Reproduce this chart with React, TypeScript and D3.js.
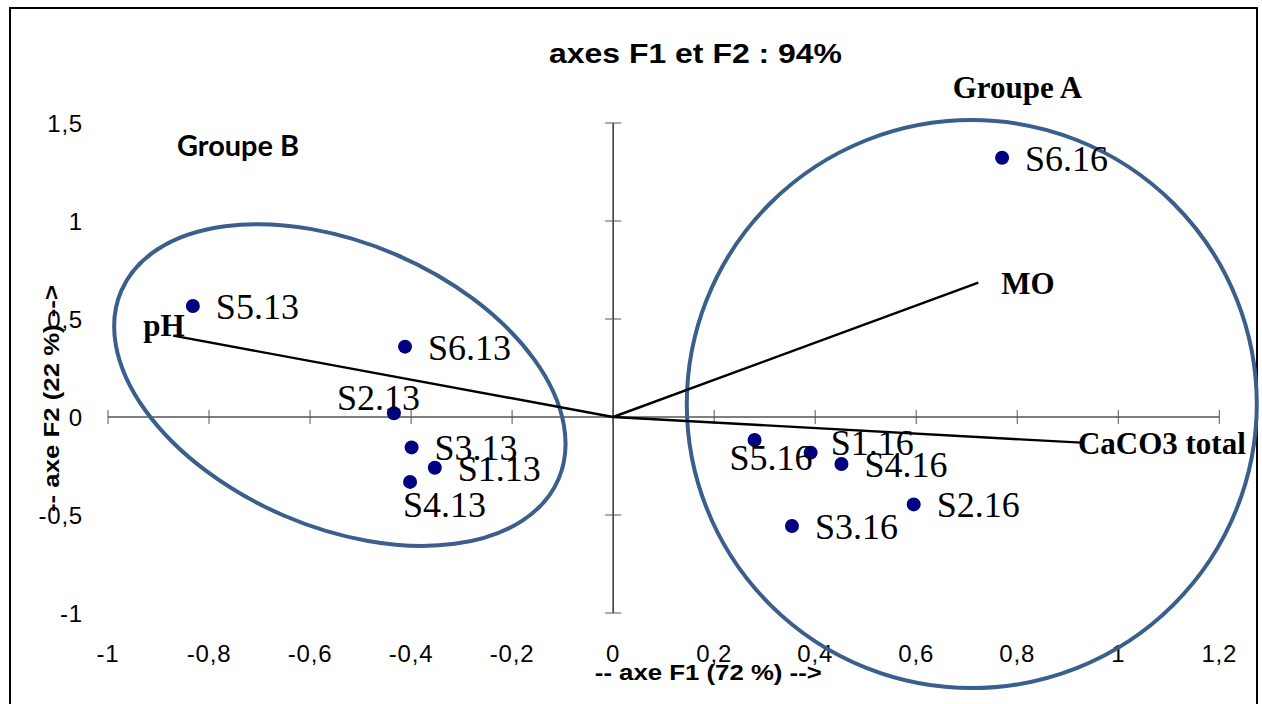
import React, { useEffect } from "react";
import { scaleLinear } from "d3";

// individus (observations) sur F1 / F2
const sampleNames = ["S1.13", "S2.13", "S3.13", "S4.13", "S5.13", "S6.13", "S1.16", "S2.16", "S3.16", "S4.16", "S5.16", "S6.16"];
const sampleF1 = [-0.353, -0.434, -0.399, -0.402, -0.832, -0.412, 0.391, 0.595, 0.354, 0.452, 0.28, 0.77];
const sampleF2 = [-0.259, 0.019, -0.155, -0.331, 0.566, 0.359, -0.182, -0.446, -0.556, -0.24, -0.117, 1.323];

// variables
const varNames = ["pH", "MO", "CaCO3 total"];
const varF1 = [-0.871, 0.723, 0.926];
const varF2 = [0.415, 0.685, -0.131];

const xTicks = [-1, -0.8, -0.6, -0.4, -0.2, 0, 0.2, 0.4, 0.6, 0.8, 1, 1.2];
const xTickLabels = ["-1", "-0,8", "-0,6", "-0,4", "-0,2", "0", "0,2", "0,4", "0,6", "0,8", "1", "1,2"];
const yTicks = [-1, -0.5, 0, 0.5, 1, 1.5];
const yTickLabels = ["-1", "-0,5", "0", "0,5", "1", "1,5"];

// groupes : centre sur le plan factoriel
const groupNames = ["Groupe A", "Groupe B"];
const groupF1 = [0.71, -0.541];
const groupF2 = [0.066, 0.163];

const W = 1262;
const H = 704;

// label placement tweaks (px), default is right of the point
const labelOffset: Record<string, [number, number]> = {
  "S2.13": [-57, -3],
  "S4.13": [-7, 35],
  "S5.16": [-25, 30],
  "S1.16": [20, 2],
};
const varLabelOffset: Record<string, [number, number]> = {
  pH: [-30, 0],
  MO: [23, 11],
  "CaCO3 total": [-3, 11],
};

export default function App() {
  useEffect(() => {
    document.body.style.margin = "0";
  }, []);

  const x = scaleLinear().domain([-1, 1.2]).range([108, 1219.3]);
  const y = scaleLinear().domain([-1, 1.5]).range([613, 123]);
  const x0 = x(0);
  const y0 = y(0);
  const arial = "'Liberation Sans', Arial, sans-serif";
  const times = "'Liberation Serif', 'Times New Roman', serif";
  const ring = "#3b5f8c";

  return (
    <svg width={W} height={H} style={{ display: "block", background: "#fff" }}>
      <rect x={10} y={8} width={1247} height={720} fill="none" stroke="#000" strokeWidth={2} />

      <text x={695.5} y={63} textAnchor="middle" fontFamily={arial} fontWeight="bold" fontSize={28} textLength={293} lengthAdjust="spacingAndGlyphs">
        axes F1 et F2 : 94%
      </text>

      {/* axes */}
      <line x1={x(-1)} x2={x(1.2)} y1={y0} y2={y0} stroke="#000" strokeWidth={1.2} />
      <line x1={x0} x2={x0} y1={y(-1)} y2={y(1.5)} stroke="#000" strokeWidth={1.2} />
      {xTicks.map((t) => (
        <line key={"xt" + t} x1={x(t)} x2={x(t)} y1={y0 - 7} y2={y0 + 7} stroke="#555" strokeWidth={1} />
      ))}
      {yTicks.map((t) => (
        <line key={"yt" + t} x1={x0 - 8} x2={x0 + 8} y1={y(t)} y2={y(t)} stroke="#555" strokeWidth={1} />
      ))}
      {xTicks.map((t, i) => (
        <text key={"xl" + t} x={x(t)} y={662} textAnchor="middle" fontFamily={arial} fontSize={24} letterSpacing={0.8}>
          {xTickLabels[i]}
        </text>
      ))}
      {yTicks.map((t, i) => (
        <text key={"yl" + t} x={83} y={y(t) + 8.5} textAnchor="end" fontFamily={arial} fontSize={24} letterSpacing={0.8}>
          {yTickLabels[i]}
        </text>
      ))}

      <text x={708.3} y={680} textAnchor="middle" fontFamily={arial} fontWeight="bold" fontSize={21.5} textLength={227} lengthAdjust="spacingAndGlyphs">
        -- axe F1 (72 %) --&gt;
      </text>
      <text transform="translate(59,398.5) rotate(-90)" textAnchor="middle" fontFamily={arial} fontWeight="bold" fontSize={21.5} textLength={227} lengthAdjust="spacingAndGlyphs">
        -- axe F2 (22 %) --&gt;
      </text>

      {/* group outlines */}
      <ellipse cx={x(groupF1[0])} cy={y(groupF2[0])} rx={285} ry={284} fill="none" stroke={ring} strokeWidth={4} />
      <ellipse
        cx={x(groupF1[1])}
        cy={y(groupF2[1])}
        rx={238}
        ry={142}
        transform={`rotate(23.3 ${x(groupF1[1])} ${y(groupF2[1])})`}
        fill="none"
        stroke={ring}
        strokeWidth={4}
      />
      <text x={952.7} y={98} fontFamily={times} fontWeight="bold" fontSize={31}>
        {groupNames[0]}
      </text>
      <text x={177} y={156} fontFamily="Lato, 'Open Sans', sans-serif" fontWeight="bold" fontSize={28} textLength={122} lengthAdjust="spacingAndGlyphs">
        {groupNames[1]}
      </text>

      {/* variable vectors */}
      {varNames.map((v, i) => {
        const ex = x(varF1[i]);
        const ey = y(varF2[i]);
        const [dx, dy] = varLabelOffset[v];
        return (
          <g key={v}>
            <line x1={x0} y1={y0} x2={ex} y2={ey} stroke="#000" strokeWidth={2.4} />
            <text x={ex + dx} y={ey + dy} fontFamily={times} fontWeight="bold" fontSize={31}>
              {v}
            </text>
          </g>
        );
      })}

      {/* samples */}
      {sampleNames.map((s, i) => {
        const px = x(sampleF1[i]);
        const py = y(sampleF2[i]);
        const [dx, dy] = labelOffset[s] || [23, 13];
        return (
          <g key={s}>
            <circle cx={px} cy={py} r={7} fill="#000080" />
            <text x={px + dx} y={py + dy} fontFamily={times} fontSize={36}>
              {s}
            </text>
          </g>
        );
      })}
    </svg>
  );
}
